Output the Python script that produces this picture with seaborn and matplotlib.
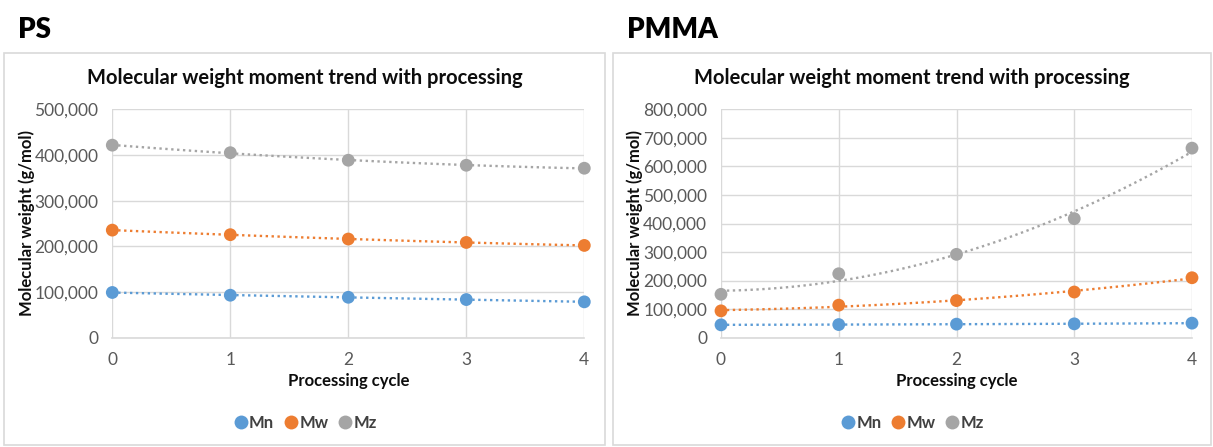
import numpy as np
import pandas as pd
import matplotlib
matplotlib.use("Agg")
import matplotlib.pyplot as plt
from matplotlib.patches import Rectangle
from matplotlib.ticker import FuncFormatter
from matplotlib.lines import Line2D
import seaborn as sns

cycles = [0, 1, 2, 3, 4]
series_names = ["Mn", "Mw", "Mz"]

ps_mn = [99000, 93000, 88500, 83500, 78500]
ps_mw = [235500, 225500, 216000, 208500, 202000]
ps_mz = [421500, 405000, 388500, 377500, 371000]

pmma_mn = [45000, 46000, 47500, 48500, 51000]
pmma_mw = [94000, 114000, 130000, 160000, 210000]
pmma_mz = [152000, 224000, 292000, 417000, 664000]

panel_titles = ["PS", "PMMA"]
chart_title = "Molecular weight moment trend with processing"
x_label = "Processing cycle"
y_label = "Molecular weight (g/mol)"
ps_ylim = (0, 500000)
pmma_ylim = (0, 800000)

colors = {"Mn": "#5B9BD5", "Mw": "#ED7D31", "Mz": "#A5A5A5"}

sns.set_theme(style="white")
plt.rcParams['font.family'] = ['Lato', 'DejaVu Sans']

W, H = 1213, 447
fig = plt.figure(figsize=(W / 100, H / 100), dpi=100)

def fx(px):
    return px / W

def fy(py):
    return 1 - py / H

def make_df(mn, mw, mz):
    rows = []
    for name, vals in zip(series_names, [mn, mw, mz]):
        for c, v in zip(cycles, vals):
            rows.append({"cycle": c, "value": v, "series": name})
    return pd.DataFrame(rows)

def trend_df(df):
    rows = []
    xs = np.linspace(min(cycles), max(cycles), 100)
    for name in series_names:
        sub = df[df.series == name]
        coef = np.polyfit(sub.cycle, sub.value, 2)
        for x in xs:
            rows.append({"cycle": x, "value": np.polyval(coef, x), "series": name})
    return pd.DataFrame(rows)

panels = [
    dict(title=panel_titles[0], data=make_df(ps_mn, ps_mw, ps_mz), ylim=ps_ylim,
         box=(4, 53, 605, 445), ax=(112.3, 109.3, 584.3, 337.7), step=100000),
    dict(title=panel_titles[1], data=make_df(pmma_mn, pmma_mw, pmma_mz), ylim=pmma_ylim,
         box=(613, 53, 1211, 445), ax=(721, 109.3, 1192, 337.7), step=100000),
]

grid_c = "#D9D9D9"
tick_c = "#595959"
text_c = "#0D0D0D"

for p in panels:
    bx0, by0, bx1, by1 = p["box"]
    fig.patches.append(Rectangle((fx(bx0), fy(by1)), fx(bx1 - bx0), (by1 - by0) / H,
                                 transform=fig.transFigure, fill=False,
                                 edgecolor=grid_c, linewidth=1.2))
    # Big panel label
    fig.text(fx(bx0 + 14), fy(30), p["title"], fontsize=20, fontweight="heavy",
             color="black", va="center", ha="left")
    # Chart title
    cx = (bx0 + bx1) / 2
    fig.text(fx(cx), fy(78), chart_title, fontsize=14.5, fontweight="bold",
             color=text_c, ha="center", va="center")

    ax0, ay0, ax1, ay1 = p["ax"]
    ax = fig.add_axes([fx(ax0), fy(ay1), fx(ax1 - ax0), (ay1 - ay0) / H])
    df = p["data"]
    tdf = trend_df(df)
    sns.lineplot(data=tdf, x="cycle", y="value", hue="series", palette=colors,
                 hue_order=series_names, ax=ax, linestyle=(0, (1, 1.5)),
                 linewidth=1.7, legend=False)
    sns.scatterplot(data=df, x="cycle", y="value", hue="series", palette=colors,
                    hue_order=series_names, ax=ax, s=85, edgecolor="none",
                    legend=False, clip_on=False, zorder=5)
    for coll in ax.collections:
        coll.set_clip_on(False)
    ax.set_xlim(cycles[0], cycles[-1])
    ax.set_ylim(*p["ylim"])
    ax.set_xticks(cycles)
    ax.set_yticks(np.arange(p["ylim"][0], p["ylim"][1] + 1, p["step"]))
    ax.yaxis.set_major_formatter(FuncFormatter(lambda v, _: f"{int(v):,}"))
    ax.grid(True, color=grid_c, linewidth=1)
    ax.set_axisbelow(True)
    for s in ["top", "right", "left"]:
        ax.spines[s].set_visible(False)
    ax.spines["bottom"].set_color(grid_c)
    ax.spines["bottom"].set_linewidth(1.2)
    ax.tick_params(axis="both", length=0, labelsize=12.5, colors=tick_c)
    ax.tick_params(axis="y", pad=10)
    ax.tick_params(axis="x", pad=10)
    ax.set_xlabel("")
    ax.set_ylabel("")
    # Axis labels
    fig.text(fx((ax0 + ax1) / 2), fy(381), x_label, fontsize=12, fontweight="bold",
             color=text_c, ha="center", va="center")
    fig.text(fx(ax0 - 86), fy((ay0 + ay1) / 2), y_label, fontsize=12, fontweight="bold",
             color=text_c, ha="center", va="center", rotation=90)
    # Legend
    handles = [Line2D([0], [0], marker="o", linestyle="none", markersize=10,
                      markerfacecolor=colors[n], markeredgecolor="none") for n in series_names]
    leg = fig.legend(handles, series_names, loc="center", ncol=3,
                     bbox_to_anchor=(fx(cx), fy(423)), frameon=False,
                     handletextpad=0.0, columnspacing=0.5, handlelength=1.0,
                     prop={"weight": "bold", "size": 12})
    for t in leg.get_texts():
        t.set_color("#404040")

fig.savefig("out.png", dpi=100)
